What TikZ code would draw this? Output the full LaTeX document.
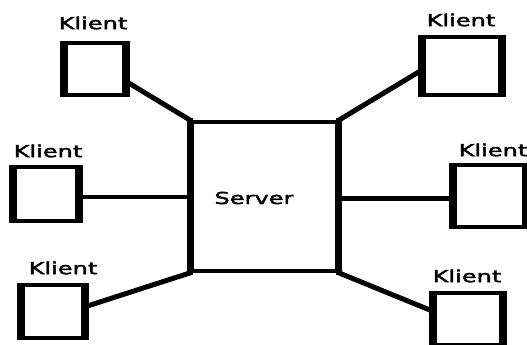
\documentclass[tikz,border=0pt]{standalone}
\usepackage{fontspec}
\setmainfont{DejaVu Sans}
\newfontfamily\tagfont[FakeBold=1.8]{DejaVu Sans}
\usetikzlibrary{calc}
\newcommand{\wide}[1]{\scalebox{1.46}[1]{#1}}
\tikzset{
  clientbox/.style={rectangle, draw=black, line width=4.2pt, inner sep=0pt, fill=white},
  serverbox/.style={rectangle, draw=black, line width=4.2pt, inner sep=0pt, fill=white},
  clientside/.style={line width=7.5pt, line cap=butt},
  serverside/.style={line width=5.8pt, line cap=butt},
  tag/.style={font=\tagfont\fontsize{16.5}{18}\selectfont, inner sep=0pt, text=black},
  link/.style={draw=black, line width=5pt}
}
\begin{document}
\begin{tikzpicture}[x=1pt, y=-1pt]
  \useasboundingbox[fill=white] (0,0) rectangle (527,345);

  % node placement (boxes are redrawn after the connectors)
  \node[serverbox, minimum width=144.5pt, minimum height=148.5pt] (srv) at (264.5,196.5) {};
  \node[clientbox, minimum width=58pt, minimum height=47.5pt] (k1) at (95,69) {};
  \node[clientbox, minimum width=76pt, minimum height=53.5pt] (k2) at (462,66) {};
  \node[clientbox, minimum width=62pt, minimum height=49.5pt] (k3) at (46,194) {};
  \node[clientbox, minimum width=69pt, minimum height=57.5pt] (k4) at (489.5,196) {};
  \node[clientbox, minimum width=60pt, minimum height=48.5pt] (k5) at (53,311.5) {};
  \node[clientbox, minimum width=66pt, minimum height=47.5pt] (k6) at (468,319) {};

  \coordinate (p1) at ($(k1.north east)!0.74!(k1.south east)$);
  \coordinate (p2) at ($(k2.north west)!0.57!(k2.south west)$);
  \coordinate (p3) at ($(k3.north east)!0.56!(k3.south east)$);
  \coordinate (p4) at ($(k4.north west)!0.54!(k4.south west)$);
  \coordinate (p5) at ($(k5.north east)!0.41!(k5.south east)$);
  \coordinate (p6) at ($(k6.north west)!0.35!(k6.south west)$);

  \draw[link] (p1) -- (srv.north west);
  \draw[link] (p2) -- (srv.north east);
  \draw[link, line width=4.4pt] (p3) -- (p3 -| srv.west);
  \draw[link, line width=4.4pt] (p4) -- (p4 -| srv.east);
  \draw[link] (p5) -- (srv.south west);
  \draw[link] (p6) -- (srv.south east);

  % boxes on top of the line ends
  \node[serverbox, minimum width=144.5pt, minimum height=148.5pt] at (srv) {};
  \foreach \k in {k1,k2,k3,k4,k5,k6}{
    \path let \p1=(\k.south west), \p2=(\k.north east) in
      node[clientbox, minimum width=\x2-\x1, minimum height=\y2-\y1] at (\k) {};
    % heavier left and right sides
    \draw[clientside] ([yshift=2.1pt]\k.north west) -- ([yshift=-2.1pt]\k.south west);
    \draw[clientside] ([yshift=2.1pt]\k.north east) -- ([yshift=-2.1pt]\k.south east);
  }
  \draw[serverside] ([yshift=2.1pt]srv.north west) -- ([yshift=-2.1pt]srv.south west);
  \draw[serverside] ([yshift=2.1pt]srv.north east) -- ([yshift=-2.1pt]srv.south east);

  \node[tag] (srvtext) at (254,198) {\wide{Server}};
  \node[tag] (t1) at (93,23) {\wide{Klient}};
  \node[tag] (t2) at (461,20) {\wide{Klient}};
  \node[tag] (t3) at (48,151) {\wide{Klient}};
  \node[tag] (t4) at (493,150) {\wide{Klient}};
  \node[tag] (t5) at (63,268) {\wide{Klient}};
  \node[tag] (t6) at (467,276) {\wide{Klient}};
\end{tikzpicture}
\end{document}
